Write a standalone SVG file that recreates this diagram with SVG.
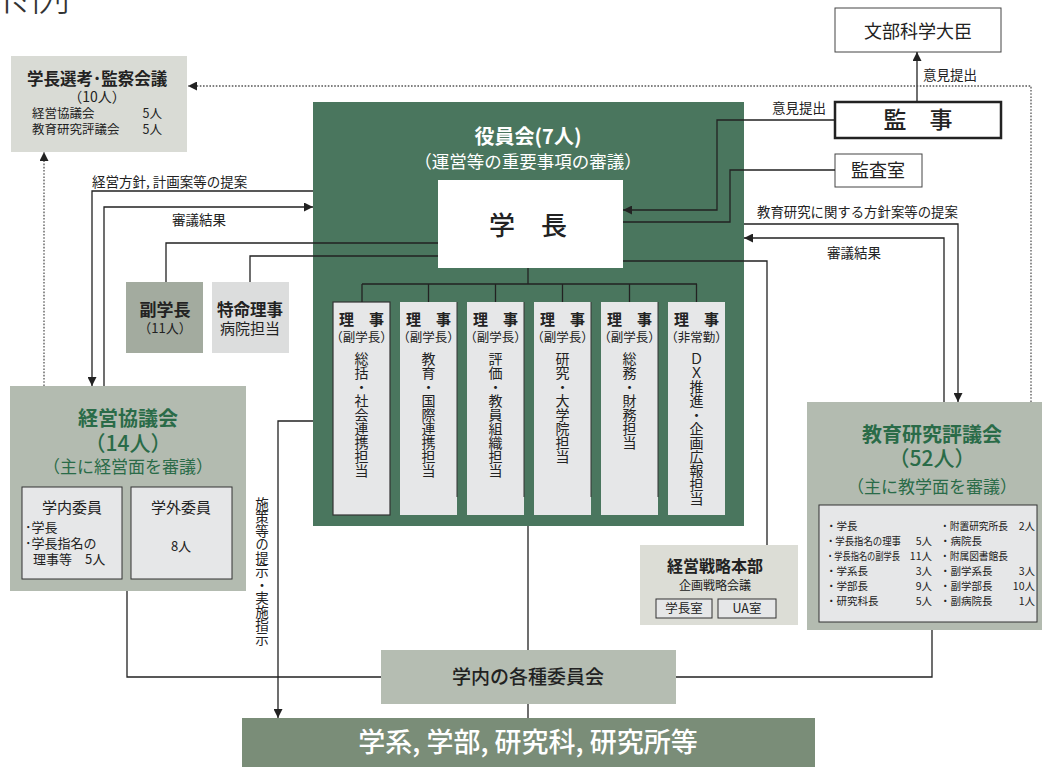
<svg xmlns="http://www.w3.org/2000/svg" width="1048" height="774" viewBox="0 0 1048 774">
<defs>
<style>
text{font-family:"Noto Sans CJK JP","Noto Sans",sans-serif;fill:#222}
.b{font-weight:bold}
.c{text-anchor:middle}
.e{text-anchor:end}
.w{fill:#fff}
.g{fill:#2a6b48}
.v{writing-mode:vertical-rl;text-orientation:upright;font-size:14px}
.ln{fill:none;stroke:#222;stroke-width:1.3}
.dot{fill:none;stroke:#555;stroke-width:1.3;stroke-dasharray:1.6 1.6}
.lite{fill:#e6e7e8}
.box{fill:#e6e7e8;stroke:#333;stroke-width:1}
</style>
<marker id="ah" viewBox="0 0 10 10" refX="10" refY="5" markerWidth="9" markerHeight="9" markerUnits="userSpaceOnUse" orient="auto"><path d="M0,0 L10,5 L0,10 z" fill="#222"/></marker>
</defs>
<rect width="1048" height="774" fill="#fff"/>
<text x="-14" y="10" style="font-size:42px;font-weight:300;fill:#333">系例</text>

<g id="senkou">
<rect x="11" y="56" width="176" height="96" fill="#d9dbd5"/>
<text x="97" y="85" class="b c" style="font-size:16.5px">学長選考･監察会議</text>
<text x="97" y="102" class="c" style="font-size:14px">（10人）</text>
<text x="32" y="118" style="font-size:12.5px">経営協議会</text>
<text x="162" y="118" class="e" style="font-size:12.5px">5人</text>
<text x="32" y="134" style="font-size:12.5px">教育研究評議会</text>
<text x="162" y="134" class="e" style="font-size:12.5px">5人</text>
</g>

<g id="monbu">
<rect x="835" y="8" width="166" height="44" fill="#fff" stroke="#444" stroke-width="1"/>
<text x="918" y="38" class="c" style="font-size:18px">文部科学大臣</text>
</g>

<g id="kanji">
<rect x="835" y="102" width="166" height="36" fill="#fff" stroke="#222" stroke-width="2.5"/>
<text x="918" y="128" class="c" style="font-size:23px;font-weight:500">監　事</text>
</g>

<g id="kansashitsu">
<rect x="835" y="154" width="87" height="33" fill="#fff" stroke="#444" stroke-width="1"/>
<text x="878" y="177" class="c" style="font-size:18px">監査室</text>
</g>

<g id="yakuinkai">
<rect x="313" y="102" width="431" height="424" fill="#4a765e"/>
<text x="528" y="144" class="b c w" style="font-size:20px">役員会(7人)</text>
<text x="528" y="168" class="c w" style="font-size:17.5px">（運営等の重要事項の審議）</text>
</g>

<g id="gakucho">
<rect x="438" y="180" width="185" height="88" fill="#fff"/>
<text x="528" y="235" class="c" style="font-size:26px;font-weight:500">学　長</text>
</g>

<g id="fukugakucho">
<rect x="126" y="282" width="77" height="71" fill="#a3ab9f"/>
<text x="165" y="316" class="b c" style="font-size:17px">副学長</text>
<text x="165" y="333" class="c" style="font-size:13px">（11人）</text>
</g>

<g id="tokumei">
<rect x="212" y="282" width="77" height="71" fill="#dcdddd"/>
<text x="250" y="316" class="b c" style="font-size:16.5px">特命理事</text>
<text x="250" y="334" class="c" style="font-size:15px">病院担当</text>
</g>

<g id="riji1">
<rect x="333" y="302" width="57" height="213" class="lite" stroke="#333" stroke-width="1.2"/>
<text x="361.5" y="325" class="b c" style="font-size:15px">理　事</text>
<text x="361.5" y="342" class="c" style="font-size:12.5px">（副学長）</text>
<text x="361.5" y="352" class="v">総括・社会連携担当</text>
</g>
<g id="riji2">
<rect x="400" y="302" width="57" height="213" class="lite"/>
<path d="M457,302 V497" stroke="#333" stroke-width="1"/>
<text x="428.5" y="325" class="b c" style="font-size:15px">理　事</text>
<text x="428.5" y="342" class="c" style="font-size:12.5px">（副学長）</text>
<text x="428.5" y="352" class="v">教育・国際連携担当</text>
</g>
<g id="riji3">
<rect x="467" y="302" width="57" height="213" class="lite"/>
<path d="M524,302 V497" stroke="#333" stroke-width="1"/>
<text x="495.5" y="325" class="b c" style="font-size:15px">理　事</text>
<text x="495.5" y="342" class="c" style="font-size:12.5px">（副学長）</text>
<text x="495.5" y="352" class="v">評価・教員組織担当</text>
</g>
<g id="riji4">
<rect x="534" y="302" width="57" height="213" class="lite"/>
<path d="M591,302 V497" stroke="#333" stroke-width="1"/>
<text x="562.5" y="325" class="b c" style="font-size:15px">理　事</text>
<text x="562.5" y="342" class="c" style="font-size:12.5px">（副学長）</text>
<text x="562.5" y="352" class="v">研究・大学院担当</text>
</g>
<g id="riji5">
<rect x="601" y="302" width="57" height="213" class="lite"/>
<path d="M658,302 V497" stroke="#333" stroke-width="1"/>
<text x="629.5" y="325" class="b c" style="font-size:15px">理　事</text>
<text x="629.5" y="342" class="c" style="font-size:12.5px">（副学長）</text>
<text x="629.5" y="352" class="v">総務・財務担当</text>
</g>
<g id="riji6">
<rect x="668" y="302" width="57" height="213" class="lite"/>
<text x="696.5" y="325" class="b c" style="font-size:15px">理　事</text>
<text x="696.5" y="342" class="c" style="font-size:12.5px">（非常勤）</text>
<text x="696.5" y="352" class="v">ＤＸ推進・企画広報担当</text>
</g>

<g id="keiei">
<rect x="10" y="386" width="236" height="205" fill="#b3bbb0"/>
<text x="128" y="426" class="b c g" style="font-size:20px">経営協議会</text>
<text x="128" y="451" class="c g" style="font-size:21px;font-weight:500">（14人）</text>
<text x="128" y="473" class="c g" style="font-size:17px">（主に経営面を審議）</text>
<rect x="22" y="487" width="100" height="92" class="box"/>
<text x="72" y="513" class="c" style="font-size:15px">学内委員</text>
<text x="25" y="532" style="font-size:13px">･学長</text>
<text x="25" y="548" style="font-size:13px">･学長指名の</text>
<text x="33" y="564" style="font-size:13px">理事等　5人</text>
<rect x="131" y="487" width="101" height="92" class="box"/>
<text x="181" y="513" class="c" style="font-size:15px">学外委員</text>
<text x="181" y="551" class="c" style="font-size:13px">8人</text>
</g>

<g id="hyogi">
<rect x="807" y="402" width="235" height="228" fill="#b3bbb0"/>
<text x="932" y="442" class="b c g" style="font-size:20px">教育研究評議会</text>
<text x="932" y="466" class="c g" style="font-size:21px;font-weight:500">（52人）</text>
<text x="932" y="493" class="c g" style="font-size:17px">（主に教学面を審議）</text>
<rect x="819" y="505" width="218" height="117" class="box"/>
<g style="font-size:10.5px">
<text x="826" y="530">・学長</text>
<text x="826" y="545" textLength="75" lengthAdjust="spacingAndGlyphs">・学長指名の理事</text>
<text x="932" y="545" class="e">5人</text>
<text x="826" y="560" textLength="74" lengthAdjust="spacingAndGlyphs">・学長指名の副学長</text>
<text x="932" y="560" class="e">11人</text>
<text x="826" y="575">・学系長</text>
<text x="932" y="575" class="e">3人</text>
<text x="826" y="590">・学部長</text>
<text x="932" y="590" class="e">9人</text>
<text x="826" y="605">・研究科長</text>
<text x="932" y="605" class="e">5人</text>
<text x="940" y="530" textLength="68" lengthAdjust="spacingAndGlyphs">・附置研究所長</text>
<text x="1035" y="530" class="e">2人</text>
<text x="940" y="545">・病院長</text>
<text x="940" y="560" textLength="68" lengthAdjust="spacingAndGlyphs">・附属図書館長</text>
<text x="940" y="575">・副学系長</text>
<text x="1035" y="575" class="e">3人</text>
<text x="940" y="590">・副学部長</text>
<text x="1035" y="590" class="e">10人</text>
<text x="940" y="605">・副病院長</text>
<text x="1035" y="605" class="e">1人</text>
</g>
</g>

<g id="senryaku">
<rect x="640" y="545" width="158" height="80" fill="#dcddd6"/>
<text x="715" y="572" class="b c" style="font-size:16px">経営戦略本部</text>
<text x="715" y="590" class="c" style="font-size:12px">企画戦略会議</text>
<rect x="656" y="599" width="56" height="19" class="box"/>
<text x="684" y="613" class="c" style="font-size:12.5px">学長室</text>
<rect x="718" y="599" width="58" height="19" class="box"/>
<text x="747" y="613" class="c" style="font-size:12.5px">UA室</text>
</g>

<g id="iinkai">
<rect x="381" y="650" width="295" height="54" fill="#b5bdb2"/>
<text x="528" y="684" class="c" style="font-size:19px;font-weight:500">学内の各種委員会</text>
</g>

<g id="gakkei">
<rect x="242" y="718" width="573" height="49" fill="#7a8d78"/>
<text x="528" y="752" class="c w" style="font-size:27px;font-weight:500">学系, 学部, 研究科, 研究所等</text>
</g>

<g id="connectors">
<path class="ln" d="M917,102 V52" marker-end="url(#ah)"/>
<path class="ln" d="M835,120 H717 V210 H623" marker-end="url(#ah)"/>
<path class="ln" d="M835,170 H730 V222 H623"/>
<path class="ln" d="M623,261 H767 V545"/>
<path class="ln" d="M528,268 V284 M362,284 H697 M362,284 V302 M428.5,284 V302 M495.5,284 V302 M562.5,284 V302 M629.5,284 V302 M696.5,284 V302"/>
<path class="ln" d="M438,243 H166 V282"/>
<path class="ln" d="M438,256 H250 V282"/>
<path class="ln" d="M313,191 H92 V386" marker-end="url(#ah)"/>
<path class="ln" d="M104,386 V207 H313" marker-end="url(#ah)"/>
<path class="ln" d="M744,224 H958 V402" marker-end="url(#ah)"/>
<path class="ln" d="M944,402 V238 H744" marker-end="url(#ah)"/>
<path class="dot" d="M1031,402 V86 H188" marker-end="url(#ah)"/>
<path class="dot" d="M44,386 V152" marker-end="url(#ah)"/>
<path class="ln" d="M313,421 H278 V718" marker-end="url(#ah)"/>
<path class="ln" d="M528,526 V650 M528,704 V718"/>
<path class="ln" d="M127,591 V677 H381 M676,677 H932 V630"/>
<text x="826" y="113" class="e" style="font-size:13.5px">意見提出</text>
<text x="923" y="80" style="font-size:13.5px">意見提出</text>
<text x="92" y="187" style="font-size:13.5px">経営方針, 計画案等の提案</text>
<text x="199" y="225" class="c" style="font-size:13.5px">審議結果</text>
<text x="757" y="217" style="font-size:13.4px">教育研究に関する方針案等の提案</text>
<text x="854" y="258" class="c" style="font-size:13.5px">審議結果</text>
<text x="262" y="497" class="v" style="font-size:13.5px">施策等の提示・実施指示</text>
</g>
</svg>
